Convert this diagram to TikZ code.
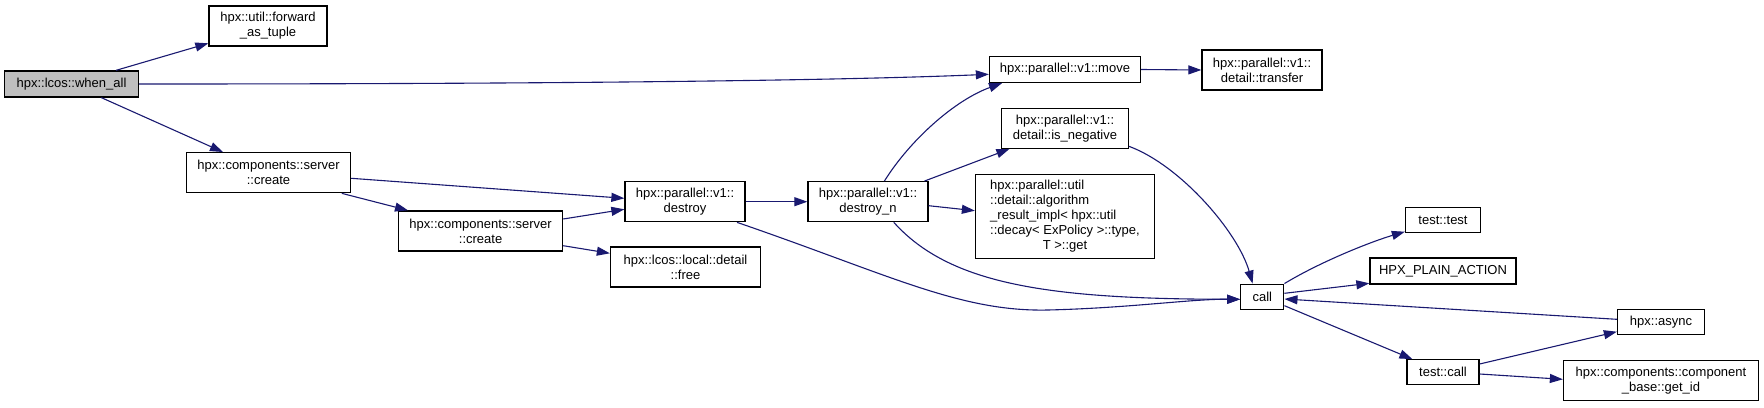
\documentclass[tikz,border=0pt]{standalone}
\usepackage{fontspec}
\setmainfont{Liberation Sans}
\usetikzlibrary{arrows.meta,calc}
\definecolor{edgeblue}{HTML}{191970}
\definecolor{fillgray}{HTML}{BFBFBF}
\begin{document}
\begin{tikzpicture}[x=1pt,y=-1pt,
  box/.style={draw=black, line width=1.3pt, fill=white, inner sep=0pt, align=center, font=\fontsize{13}{15}\selectfont},
  plainbox/.style={draw=black, line width=1.3pt, fill=white, inner sep=0pt, font=\fontsize{13}{15}\selectfont},
  conn/.style={draw=edgeblue, line width=1.1pt, -{Triangle[length=13pt,width=9pt]}}]
\useasboundingbox (0,0) rectangle (1764,407);

\node[box, fill=fillgray, minimum width=134pt, minimum height=26pt] (whenall) at (71.5,84) {hpx::lcos::when\_all};
\node[box, minimum width=118pt, minimum height=40pt] (fwd) at (268,26) {hpx::util::forward\\\_as\_tuple};
\node[box, minimum width=164pt, minimum height=40pt] (create1) at (268.5,172.7) {hpx::components::server\\::create};
\node[box, minimum width=164pt, minimum height=40pt] (create2) at (480.6,231) {hpx::components::server\\::create};
\node[box, minimum width=120pt, minimum height=40pt] (destroy) at (685,201.7) {hpx::parallel::v1::\\destroy};
\node[box, minimum width=150pt, minimum height=40pt] (free) at (685.5,267) {hpx::lcos::local::detail\\::free};
\node[box, minimum width=120pt, minimum height=40pt] (destroyn) at (868,201.7) {hpx::parallel::v1::\\destroy\_n};
\node[box, minimum width=151pt, minimum height=26pt] (move) at (1065,69.5) {hpx::parallel::v1::move};
\node[box, minimum width=120pt, minimum height=40pt] (transfer) at (1262,70) {hpx::parallel::v1::\\detail::transfer};
\node[box, minimum width=126.5pt, minimum height=40pt] (isneg) at (1065,128.3) {hpx::parallel::v1::\\detail::is\_negative};
\node[plainbox, minimum width=179pt, minimum height=84pt] (algo) at (1065,216.3) {\begin{tabular}{@{}l@{}}hpx::parallel::util\\::detail::algorithm\\\_result\_impl< hpx::util\\::decay< ExPolicy >::type,\\\multicolumn{1}{@{}c@{}}{T >::get}\end{tabular}};
\node[box, minimum width=43pt, minimum height=25pt] (call) at (1262.3,296.7) {call};
\node[box, minimum width=75pt, minimum height=25pt] (ttest) at (1443,220.3) {test::test};
\node[box, minimum width=146pt, minimum height=26pt] (hpxpa) at (1443,271) {HPX\_PLAIN\_ACTION};
\node[box, minimum width=87pt, minimum height=25pt] (async) at (1661,321.7) {hpx::async};
\node[box, minimum width=72pt, minimum height=25pt] (tcall) at (1443,372.3) {test::call};
\node[box, minimum width=195pt, minimum height=40pt] (getid) at (1661,380.3) {hpx::components::component\\\_base::get\_id};

\draw[conn] ($(whenall.north)+(44.5,0)$) -- ($(fwd.west)+(0,17.3)$);
\draw[conn] (whenall.east) .. controls (700,84) and (900,78) .. ($(move.west)+(0,4.8)$);
\draw[conn] ($(whenall.south)+(29.9,0)$) -- ($(create1.north)+(-45.5,0)$);
\draw[conn] ($(create1.east)+(0,5.6)$) -- ($(destroy.west)+(0,-3.4)$);
\draw[conn] ($(create1.south)+(73.3,0)$) -- ($(create2.north)+(-72.6,0)$);
\draw[conn] ($(create2.east)+(0,-12)$) -- ($(destroy.west)+(0,7.6)$);
\draw[conn] ($(create2.east)+(0,14.7)$) -- ($(free.west)+(0,-13.7)$);
\draw[conn] (destroy.east) -- (destroyn.west);
\draw[conn] ($(destroy.south)+(52,0)$) .. controls (890,275) and (960,312) .. (1048,310) .. controls (1130,308) and (1190,299) .. ($(call.west)+(0,2.6)$);
\draw[conn] ($(destroyn.north)+(16.4,0)$) .. controls (910,140) and (955,100) .. ($(move.south)+(-63,0)$);
\draw[conn] ($(destroyn.north)+(56.5,0)$) -- ($(isneg.south)+(-55.6,0)$);
\draw[conn] ($(destroyn.east)+(0,4)$) -- ($(algo.west)+(0,-5.6)$);
\draw[conn] ($(destroyn.south)+(25.8,0)$) .. controls (950,285) and (1050,299) .. ($(call.west)+(0,2.6)$);
\draw[conn] ($(isneg.east)+(0,18)$) .. controls (1180,165) and (1238,232) .. ($(call.north)+(-9.7,0)$);
\draw[conn] (move.east) -- (transfer.west);
\draw[conn] (call.north east) .. controls (1320,262) and (1370,242) .. ($(ttest.west)+(0,11.4)$);
\draw[conn] ($(call.east)+(0,-3.4)$) -- ($(hpxpa.west)+(0,12.3)$);
\draw[conn] ($(async.west)+(0,-2.4)$) -- ($(call.east)+(0,2.3)$);
\draw[conn] ($(call.east)+(0,9)$) -- ($(tcall.north)+(-30.6,0)$);
\draw[conn] ($(tcall.east)+(0,-8.3)$) -- ($(async.west)+(0,10)$);
\draw[conn] ($(tcall.east)+(0,1.7)$) -- ($(getid.west)+(0,-1)$);
\end{tikzpicture}
\end{document}
